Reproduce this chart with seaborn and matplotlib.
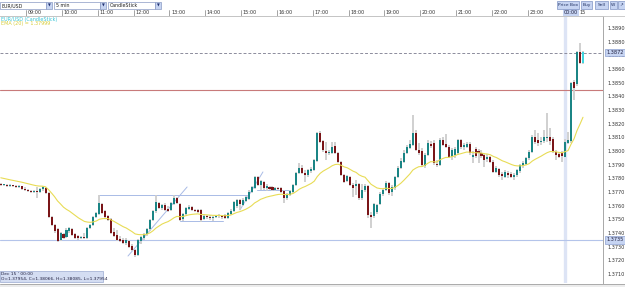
import numpy as np
import pandas as pd
import seaborn as sns
import matplotlib.pyplot as plt
import matplotlib.transforms as mtransforms
from matplotlib.patches import Rectangle

sns.set_theme(style="white")
plt.rcParams['font.family'] = ['DejaVu Sans']

# -----------------------------
# EUR/USD 5 min candles, 08:15 -> 00:30
# -----------------------------
opens = [
    1.37759, 1.37751, 1.37751, 1.37744, 1.37751, 1.37744, 1.37737, 1.37744, 1.37722, 1.37715,
    1.37707, 1.37700, 1.37707, 1.37700, 1.37722, 1.37729, 1.37693, 1.37517, 1.37459, 1.37430,
    1.37349, 1.37393, 1.37371, 1.37415, 1.37430, 1.37393, 1.37378, 1.37364, 1.37371, 1.37364,
    1.37437, 1.37459, 1.37517, 1.37539, 1.37612, 1.37561, 1.37525, 1.37503, 1.37408, 1.37386,
    1.37356, 1.37349, 1.37327, 1.37342, 1.37305, 1.37276, 1.37240, 1.37342, 1.37364, 1.37393,
    1.37430, 1.37495, 1.37561, 1.37620, 1.37583, 1.37605, 1.37576, 1.37568, 1.37612, 1.37656,
    1.37612, 1.37503, 1.37539, 1.37576, 1.37590, 1.37568, 1.37568, 1.37568, 1.37503, 1.37525,
    1.37517, 1.37510, 1.37517, 1.37525, 1.37525, 1.37532, 1.37510, 1.37539, 1.37561, 1.37598,
    1.37641, 1.37605, 1.37634, 1.37649, 1.37700, 1.37729, 1.37810, 1.37751, 1.37773, 1.37729,
    1.37737, 1.37737, 1.37715, 1.37729, 1.37729, 1.37707, 1.37656, 1.37678, 1.37700, 1.37751,
    1.37839, 1.37876, 1.37839, 1.37824, 1.37854, 1.37861, 1.37927, 1.38132, 1.38073, 1.38000,
    1.37986, 1.37986, 1.38037, 1.37986, 1.37920, 1.37824, 1.37781, 1.37810, 1.37751, 1.37744,
    1.37759, 1.37656, 1.37715, 1.37744, 1.37532, 1.37525, 1.37554, 1.37612, 1.37685, 1.37715,
    1.37766, 1.37700, 1.37729, 1.37810, 1.37876, 1.37920, 1.37986, 1.38022, 1.38044, 1.38132,
    1.38008, 1.38000, 1.37890, 1.37971, 1.38051, 1.38059, 1.37905, 1.37898, 1.38081, 1.38051,
    1.38029, 1.37956, 1.37971, 1.37986, 1.38081, 1.38029, 1.38029, 1.38051, 1.37956, 1.38015,
    1.38000, 1.37986, 1.37971, 1.37942, 1.37956, 1.37920, 1.37846, 1.37868, 1.37832, 1.37810,
    1.37839, 1.37832, 1.37810, 1.37824, 1.37854, 1.37890, 1.37905, 1.37949, 1.37993, 1.38103,
    1.38081, 1.38066, 1.38073, 1.38095, 1.38103, 1.38088, 1.37993, 1.37978, 1.37986, 1.37954,
    1.38059, 1.38073, 1.38505, 1.38490, 1.38724, 1.38644,
]
closes = [
    1.37751, 1.37751, 1.37744, 1.37751, 1.37744, 1.37737, 1.37744, 1.37722, 1.37715, 1.37707,
    1.37700, 1.37707, 1.37700, 1.37722, 1.37737, 1.37693, 1.37517, 1.37459, 1.37415, 1.37342,
    1.37400, 1.37364, 1.37422, 1.37437, 1.37386, 1.37364, 1.37364, 1.37371, 1.37364, 1.37437,
    1.37459, 1.37517, 1.37547, 1.37620, 1.37547, 1.37517, 1.37495, 1.37400, 1.37378, 1.37349,
    1.37342, 1.37327, 1.37349, 1.37298, 1.37276, 1.37240, 1.37349, 1.37371, 1.37393, 1.37430,
    1.37495, 1.37561, 1.37627, 1.37583, 1.37605, 1.37568, 1.37561, 1.37620, 1.37656, 1.37620,
    1.37495, 1.37539, 1.37583, 1.37590, 1.37568, 1.37561, 1.37554, 1.37495, 1.37525, 1.37517,
    1.37510, 1.37517, 1.37525, 1.37532, 1.37517, 1.37510, 1.37547, 1.37561, 1.37627, 1.37641,
    1.37612, 1.37641, 1.37663, 1.37700, 1.37737, 1.37810, 1.37751, 1.37781, 1.37729, 1.37744,
    1.37722, 1.37715, 1.37729, 1.37722, 1.37700, 1.37656, 1.37685, 1.37707, 1.37751, 1.37839,
    1.37876, 1.37839, 1.37824, 1.37861, 1.37868, 1.37934, 1.38132, 1.38066, 1.38008, 1.37986,
    1.37993, 1.38029, 1.37986, 1.37920, 1.37824, 1.37773, 1.37817, 1.37751, 1.37729, 1.37759,
    1.37656, 1.37715, 1.37744, 1.37532, 1.37517, 1.37612, 1.37605, 1.37685, 1.37715, 1.37766,
    1.37693, 1.37737, 1.37810, 1.37876, 1.37927, 1.37986, 1.38029, 1.38051, 1.38132, 1.38008,
    1.37986, 1.37898, 1.37971, 1.38059, 1.38037, 1.37912, 1.37898, 1.38081, 1.38044, 1.38029,
    1.37956, 1.38008, 1.38015, 1.38081, 1.38029, 1.38044, 1.38051, 1.37986, 1.37971, 1.37964,
    1.37986, 1.37964, 1.37934, 1.37956, 1.37920, 1.37846, 1.37876, 1.37824, 1.37817, 1.37846,
    1.37824, 1.37810, 1.37824, 1.37861, 1.37898, 1.37912, 1.37949, 1.37993, 1.38103, 1.38066,
    1.38059, 1.38073, 1.38103, 1.38103, 1.38073, 1.37993, 1.37971, 1.37956, 1.37964, 1.38066,
    1.38081, 1.38498, 1.38461, 1.38724, 1.38644, 1.38724,
]
highs = [
    1.37766, 1.37759, 1.37759, 1.37759, 1.37751, 1.37751, 1.37751, 1.37744, 1.37737, 1.37722,
    1.37715, 1.37715, 1.37737, 1.37729, 1.37744, 1.37737, 1.37700, 1.37525, 1.37466, 1.37437,
    1.37408, 1.37400, 1.37437, 1.37444, 1.37437, 1.37400, 1.37386, 1.37378, 1.37400, 1.37444,
    1.37466, 1.37525, 1.37554, 1.37678, 1.37620, 1.37568, 1.37532, 1.37510, 1.37437, 1.37422,
    1.37378, 1.37364, 1.37364, 1.37349, 1.37320, 1.37283, 1.37356, 1.37378, 1.37400, 1.37437,
    1.37503, 1.37568, 1.37678, 1.37627, 1.37612, 1.37620, 1.37598, 1.37627, 1.37678, 1.37663,
    1.37620, 1.37547, 1.37590, 1.37605, 1.37598, 1.37576, 1.37576, 1.37576, 1.37539, 1.37532,
    1.37532, 1.37525, 1.37532, 1.37539, 1.37532, 1.37539, 1.37554, 1.37576, 1.37634, 1.37649,
    1.37649, 1.37656, 1.37671, 1.37715, 1.37744, 1.37817, 1.37817, 1.37788, 1.37781, 1.37759,
    1.37744, 1.37744, 1.37737, 1.37737, 1.37737, 1.37715, 1.37693, 1.37715, 1.37759, 1.37846,
    1.37912, 1.37898, 1.37861, 1.37868, 1.37883, 1.37942, 1.38139, 1.38147, 1.38081, 1.38066,
    1.38008, 1.38066, 1.38066, 1.37993, 1.37927, 1.37832, 1.37824, 1.37817, 1.37766, 1.37788,
    1.37766, 1.37759, 1.37759, 1.37751, 1.37554, 1.37620, 1.37612, 1.37700, 1.37722, 1.37781,
    1.37773, 1.37751, 1.37817, 1.37890, 1.37949, 1.38008, 1.38044, 1.38081, 1.38264, 1.38154,
    1.38059, 1.38022, 1.37986, 1.38081, 1.38073, 1.38081, 1.37934, 1.38095, 1.38103, 1.38125,
    1.38044, 1.38022, 1.38029, 1.38088, 1.38088, 1.38059, 1.38066, 1.38066, 1.38000, 1.38029,
    1.38015, 1.38008, 1.37986, 1.37978, 1.37964, 1.37934, 1.37890, 1.37876, 1.37846, 1.37861,
    1.37854, 1.37846, 1.37839, 1.37868, 1.37905, 1.37927, 1.37956, 1.38008, 1.38117, 1.38154,
    1.38132, 1.38103, 1.38154, 1.38278, 1.38169, 1.38103, 1.38008, 1.37993, 1.38000, 1.38085,
    1.38139, 1.38505, 1.38520, 1.38732, 1.38790, 1.38732,
]
lows = [
    1.37744, 1.37744, 1.37737, 1.37737, 1.37737, 1.37729, 1.37729, 1.37715, 1.37707, 1.37700,
    1.37693, 1.37693, 1.37656, 1.37693, 1.37707, 1.37685, 1.37510, 1.37452, 1.37400, 1.37335,
    1.37342, 1.37356, 1.37364, 1.37400, 1.37378, 1.37356, 1.37349, 1.37356, 1.37356, 1.37356,
    1.37430, 1.37452, 1.37510, 1.37532, 1.37539, 1.37510, 1.37488, 1.37393, 1.37371, 1.37342,
    1.37335, 1.37320, 1.37313, 1.37291, 1.37269, 1.37225, 1.37232, 1.37320, 1.37349, 1.37378,
    1.37415, 1.37488, 1.37547, 1.37576, 1.37568, 1.37561, 1.37554, 1.37561, 1.37605, 1.37612,
    1.37488, 1.37488, 1.37532, 1.37568, 1.37561, 1.37554, 1.37547, 1.37481, 1.37495, 1.37503,
    1.37495, 1.37488, 1.37510, 1.37510, 1.37503, 1.37503, 1.37503, 1.37532, 1.37554, 1.37583,
    1.37568, 1.37598, 1.37627, 1.37641, 1.37693, 1.37722, 1.37744, 1.37715, 1.37715, 1.37707,
    1.37715, 1.37707, 1.37707, 1.37715, 1.37693, 1.37620, 1.37641, 1.37671, 1.37693, 1.37744,
    1.37832, 1.37832, 1.37773, 1.37810, 1.37839, 1.37854, 1.37920, 1.38059, 1.37993, 1.37934,
    1.37971, 1.37978, 1.37978, 1.37912, 1.37817, 1.37766, 1.37773, 1.37744, 1.37663, 1.37678,
    1.37641, 1.37641, 1.37700, 1.37510, 1.37437, 1.37510, 1.37539, 1.37605, 1.37671, 1.37707,
    1.37678, 1.37671, 1.37715, 1.37802, 1.37868, 1.37912, 1.37978, 1.38015, 1.38037, 1.38000,
    1.37971, 1.37883, 1.37876, 1.37964, 1.38022, 1.37898, 1.37883, 1.37890, 1.38037, 1.38022,
    1.37949, 1.37934, 1.37949, 1.37971, 1.38015, 1.38008, 1.38022, 1.37971, 1.37912, 1.37949,
    1.37912, 1.37949, 1.37883, 1.37920, 1.37912, 1.37839, 1.37839, 1.37810, 1.37788, 1.37802,
    1.37802, 1.37802, 1.37788, 1.37810, 1.37839, 1.37876, 1.37898, 1.37934, 1.37986, 1.38051,
    1.38037, 1.38044, 1.38059, 1.38066, 1.38044, 1.37986, 1.37934, 1.37949, 1.37920, 1.37954,
    1.38051, 1.38059, 1.38373, 1.38476, 1.38637, 1.38637,
]

start_time = "2014-12-14 08:15"
ema_span = 20
ema_start = 1.3781          # EMA value at the left edge of the chart

price_ticks = [1.3710, 1.3720, 1.3730, 1.3740, 1.3750, 1.3760, 1.3770, 1.3780, 1.3790,
               1.3800, 1.3810, 1.3820, 1.3830, 1.3840, 1.3850, 1.3860, 1.3870, 1.3880, 1.3890]

current_price = 1.3872
marked_price = 1.3735
red_level = 1.3845
cursor_candle = 189         # Dec 15 00:00

# drawn objects: (start candle, end candle, start price, end price)
drawn_lines = [
    (32.9, 82.5, 1.37678, 1.37678),
    (60.0, 74.4, 1.37488, 1.37488),
    (85.8, 96.9, 1.37715, 1.37715),
    (42.6, 62.4, 1.37232, 1.37737),
    (80.1, 87.8, 1.37569, 1.37847),
]

# -----------------------------
# Figure
# -----------------------------
W, H = 625, 287
fig = plt.figure(figsize=(W / 100, H / 100), dpi=100)
fig.patch.set_facecolor('white')


def fx(x):
    return x / W


def fy(y):
    return 1 - y / H


ax = fig.add_axes([0, fy(283), fx(603), (283 - 16) / H])
ax.set_facecolor('white')

o = np.array(opens)
c = np.array(closes)
hi = np.array(highs)
lo = np.array(lows)
idx = np.arange(len(c))

ax.set_xlim(-0.27, 201.7)
ax.set_ylim(1.3890 - 255 / 13670, 1.3890 + 12 / 13670)

# cursor line at 00:00
ax.axvline(cursor_candle, color='#dde4f5', lw=2.4, zorder=1)

# horizontal levels
ax.axhline(marked_price, color='#b4c4ea', lw=0.8, zorder=1)
ax.axhline(red_level, color='#c87a7a', lw=0.8, zorder=1)
ax.axhline(current_price, color='#8c8c9c', lw=0.7, ls=(0, (3, 2)), zorder=1)

for x0, x1, y0, y1 in drawn_lines:
    ax.plot([x0, x1], [y0, y1], color='#a9bbe6', lw=0.7, zorder=1)

# candles
colors = ['#1b8585' if cc >= oo else '#7a1518' for oo, cc in zip(o, c)]
colors[-1] = '#3ed6df'
ax.vlines(idx, lo, hi, color='#cdcdcd', lw=1.3, zorder=2)
bottoms = np.minimum(o, c)
heights = np.maximum(np.abs(c - o), 0.00006)
ax.bar(idx, heights, bottom=bottoms, width=0.68, color=colors, linewidth=0, zorder=3)

# EMA(20)
ema = pd.Series([ema_start] + closes).ewm(span=ema_span, adjust=False).mean().iloc[1:].values
sns.lineplot(x=idx, y=ema, ax=ax, color='#e8dc55', lw=0.8, zorder=4)

# price axis on the right
ax.yaxis.tick_right()
ax.set_yticks(price_ticks)
ax.set_yticklabels([f"{t:.4f}" for t in price_ticks])
ax.tick_params(axis='y', labelsize=3.6, length=0, pad=3, colors='#333333')
ax.set_xticks([])
for side in ['left', 'bottom']:
    ax.spines[side].set_visible(False)
ax.spines['right'].set_color('#a8a8a8')
ax.spines['right'].set_linewidth(0.7)
ax.spines['top'].set_color('#c4c4c4')
ax.spines['top'].set_linewidth(0.6)

yright = mtransforms.blended_transform_factory(ax.transAxes, ax.transData)
for p in [current_price, marked_price]:
    ax.text(1.006, p, f"{p:.4f}", transform=yright, fontsize=3.6, color='#202040',
            va='center', ha='left', zorder=6,
            bbox=dict(boxstyle='square,pad=0.25', fc='#c6d4f2', ec='#8da0d0', lw=0.5))

# time axis on top
times = pd.date_range(start_time, periods=len(c), freq='5min')
xtop = mtransforms.blended_transform_factory(ax.transData, fig.transFigure)
for i, t in enumerate(times):
    if t.minute != 0:
        continue
    xi = i - 0.5
    ax.plot([xi, xi], [fy(15.5), fy(9.5)], transform=xtop, color='#808080', lw=0.5, clip_on=False)
    label = t.strftime('%H:%M')
    if i == cursor_candle:
        ax.text(xi, fy(12.5), label, transform=xtop, fontsize=3.5, color='#202040', va='center',
                ha='left', bbox=dict(boxstyle='square,pad=0.2', fc='#c6d4f2', ec='none'))
        ax.text(xi + 5.2, fy(12.5), '15', transform=xtop, fontsize=3.5, color='#333333',
                va='center', ha='left')
    else:
        ax.text(xi + 0.5, fy(12.5), label, transform=xtop, fontsize=3.5, color='#333333',
                va='center', ha='left')
fig.add_artist(plt.Line2D([0, 1], [fy(16), fy(16)], color='#c4c4c4', lw=0.6))

# legend lines
fig.text(fx(1), fy(19), "EUR/USD (CandleStick)", fontsize=3.5, color='#38c4d6', va='center')
fig.text(fx(1), fy(24), f"EMA ({ema_span}) = 1.37999", fontsize=3.5, color='#d6cc3a', va='center')

# toolbar
for x0, w, label in [(0, 46, "EUR/USD"), (54, 46, "5 min"), (108, 47, "CandleStick")]:
    fig.add_artist(Rectangle((fx(x0), fy(9)), w / W, 7 / H, transform=fig.transFigure,
                             fc='white', ec='#8a9ac4', lw=0.5))
    fig.text(fx(x0 + 2), fy(5.5), label, fontsize=3.4, color='#202020', va='center')
    fig.add_artist(Rectangle((fx(x0 + w), fy(9)), 6 / W, 7 / H, transform=fig.transFigure,
                             fc='#c6d4f2', ec='#8a9ac4', lw=0.5))
    fig.text(fx(x0 + w + 3), fy(5.5), u'\u25bc', fontsize=2.6, color='#203070',
             va='center', ha='center')

for x0, w, label in [(557, 22, "Price Box"), (581, 11, "Buy"), (595, 13, "Sell"),
                     (610, 7, "W"), (618, 7, u"\u2197")]:
    fig.add_artist(Rectangle((fx(x0), fy(8.5)), w / W, 7.5 / H, transform=fig.transFigure,
                             fc='#c6d4f2', ec='#7f93c4', lw=0.5))
    fig.text(fx(x0 + w / 2), fy(4.8), label, fontsize=3.2, color='#203060',
             va='center', ha='center')

# hover info box
fig.add_artist(Rectangle((fx(0), fy(282)), 103 / W, 11 / H, transform=fig.transFigure,
                         fc='#d4ddf2', ec='#9aaad0', lw=0.5))
fig.text(fx(1.5), fy(274), "Dec 15 ' 00:00", fontsize=3.2, color='#202040', va='center')
info = "O={:.5f}, C={:.5f}, H={:.5f}, L={:.5f}".format(
    opens[cursor_candle], closes[cursor_candle], highs[cursor_candle], lows[cursor_candle])
fig.text(fx(1.5), fy(279.3), info, fontsize=3.2, color='#202040', va='center')

# scroll bar
fig.add_artist(plt.Line2D([0, 1], [fy(283.5), fy(283.5)], color='#a0a0a0', lw=0.6))
fig.add_artist(Rectangle((0, 0), 1, fy(284), transform=fig.transFigure, fc='#ececec', ec='none'))

fig.savefig('out.png', dpi=100, facecolor='white')
